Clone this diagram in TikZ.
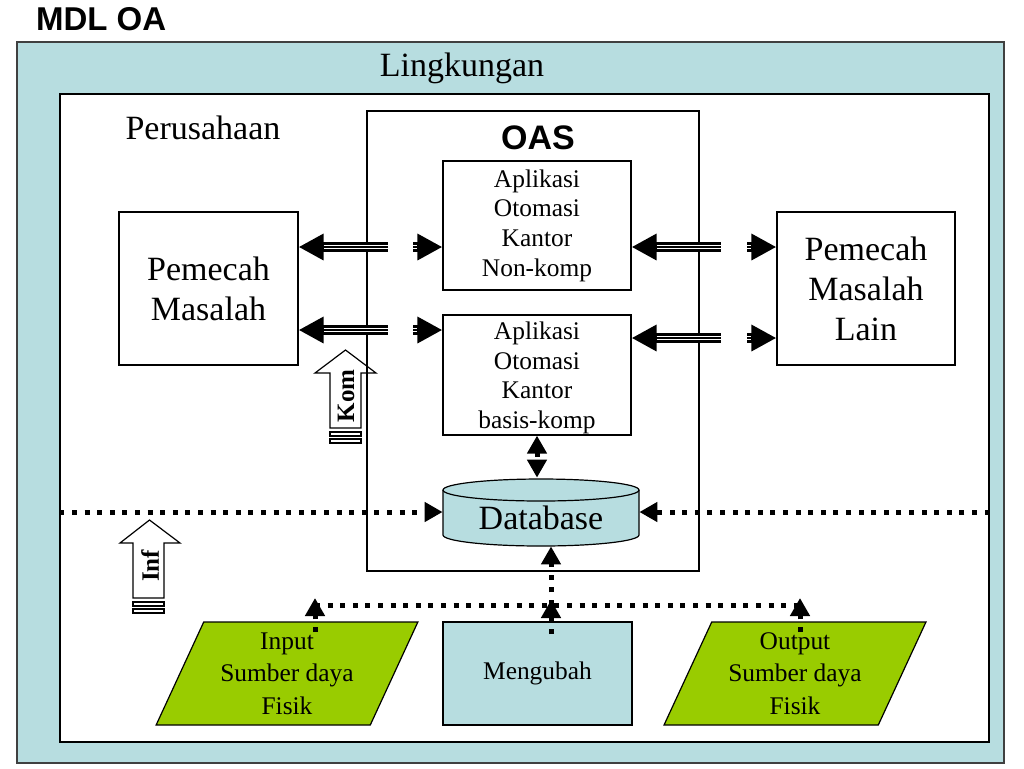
\documentclass[tikz,border=0pt]{standalone}
\usepackage{fontspec}
\setmainfont{Liberation Serif}
\newfontfamily\arialfont{Liberation Sans}
\usetikzlibrary{arrows.meta, shapes.geometric}
\definecolor{envteal}{HTML}{B7DDE0}
\definecolor{fisikgreen}{HTML}{99CC00}

\begin{document}
\begin{tikzpicture}[
    x=0.5pt, y=-0.5pt,
    box/.style={rectangle, draw, line width=0.6pt, inner sep=0pt, align=center},
    para/.style={trapezium, trapezium left angle=65, trapezium right angle=115, trapezium stretches=true, draw, line width=0.6pt, fill=fisikgreen, inner sep=0pt, align=center, minimum width=131pt, minimum height=51.5pt},
    smalltext/.style={font=\fontsize{12.7}{14.8}\selectfont},
    fisiktext/.style={font=\fontsize{12.7}{16.2}\selectfont},
    bigtext/.style={font=\fontsize{17}{20}\selectfont},
    tipL/.style={line width=4.6pt, {Triangle[length=12.5pt,width=12.5pt]}-,
        postaction={draw=white, line width=2.4pt, arrows=-, shorten <=12.5pt},
        postaction={draw=black, line width=0.9pt, arrows=-, shorten <=12.5pt}},
    tipR/.style={line width=4.6pt, -{Triangle[length=12.5pt,width=12.5pt]},
        postaction={draw=white, line width=2.4pt, arrows=-, shorten >=12.5pt},
        postaction={draw=black, line width=0.9pt, arrows=-, shorten >=12.5pt}},
    dotline/.style={line width=2.5pt, dash pattern=on 2.5pt off 3.8pt},
    dotarrow/.style={dotline, -{Triangle[length=9pt,width=9.5pt]}},
    hollow/.style={draw, line width=0.6pt}
]
\useasboundingbox (0,0) rectangle (1024,768);

\node[anchor=west, font=\arialfont\bfseries\fontsize{16.5}{20}\selectfont] (title) at (29,19) {MDL OA};

% lingkungan / perusahaan / OAS
\node[box, fill=envteal, draw=black!75, minimum width=493.5pt, minimum height=360.5pt] (env) at (510.5,402.5) {};
\node[bigtext] (envlabel) at (462,68) {Lingkungan};
\node[box, fill=white, minimum width=464.5pt, minimum height=324pt] (corp) at (524.5,418) {};
\node[bigtext] (corplabel) at (203,128) {Perusahaan};
\node[box, minimum width=166pt, minimum height=230pt] (oas) at (533,341) {};
\node[font=\arialfont\bfseries\fontsize{17}{20}\selectfont] (oaslabel) at (538,138) {OAS};

\node[box, smalltext, minimum width=94pt, minimum height=64.5pt] (app1) at (537,225.5) {Aplikasi\\Otomasi\\Kantor\\Non-komp};
\node[box, smalltext, minimum width=94pt, minimum height=60pt, text depth=-1pt] (app2) at (537,375) {Aplikasi\\Otomasi\\Kantor\\basis-komp};

\node[box, bigtext, minimum width=89.5pt, minimum height=76.5pt] (pm) at (208.5,288.5) {Pemecah\\Masalah};
\node[box, bigtext, minimum width=89pt, minimum height=76.5pt] (pml) at (866,288.5) {Pemecah\\Masalah\\Lain};

% database
\draw[fill=envteal, line width=0.6pt] (443,490) -- (443,535) arc[start angle=180, end angle=360, x radius=49pt, y radius=5.5pt] -- (639,490);
\draw[fill=envteal, line width=0.6pt] (541,490) ellipse[x radius=49pt, y radius=5.5pt];
\node[minimum width=98pt, minimum height=34pt, inner sep=0pt, label={[bigtext, yshift=-3pt]center:Database}] (db) at (541,512) {};

\node[para, fisiktext] (inp) at (287,673.5) {Input\\Sumber daya\\Fisik};
\node[box, smalltext, fill=envteal, minimum width=94.5pt, minimum height=51.5pt] (mg) at (537.5,673.5) {Mengubah};
\node[para, fisiktext] (outp) at (795,673.5) {Output\\Sumber daya\\Fisik};

% triple arrows
\coordinate (lt1) at (388,247); \coordinate (lh1) at (413,247);
\coordinate (lt2) at (388,330); \coordinate (lh2) at (413,330);
\coordinate (rt1) at (721,247); \coordinate (rh1) at (747,247);
\coordinate (rt2) at (721,338); \coordinate (rh2) at (747,338);
\draw[tipL] (pm.east |- lt1) -- (lt1);
\draw[tipR] (lh1) -- (app1.west |- lh1);
\draw[tipL] (pm.east |- lt2) -- (lt2);
\draw[tipR] (lh2) -- (app2.west |- lh2);
\draw[tipL] (app1.east |- rt1) -- (rt1);
\draw[tipR] (rh1) -- (pml.west |- rh1);
\draw[tipL] (app2.east |- rt2) -- (rt2);
\draw[tipR] (rh2) -- (pml.west |- rh2);

% dotted flows
\draw[dotarrow] (corp.west |- db.west) -- (db.west);
\draw[dotarrow] (corp.east |- db.east) -- (db.east);
\draw[dotline, {Triangle[length=9pt,width=9.5pt]}-{Triangle[length=9pt,width=9.5pt]}] (app2.south) -- (app2.south |- db.north);

\coordinate (busL) at (315,605); \coordinate (busR) at (800,605); \coordinate (busM) at (551,605);
\coordinate (inS) at (315,632); \coordinate (inT) at (315,598);
\coordinate (outS) at (800,632); \coordinate (outT) at (800,598);
\coordinate (mgS) at (551,634); \coordinate (mgT) at (551,600);
\draw[dotline] (busL) -- (busR);
\draw[dotarrow] (busM) -- (busM |- db.south);
\draw[dotarrow] (inS) -- (inT);
\draw[dotarrow] (outS) -- (outT);
\draw[dotarrow] (mgS) -- (mgT);

% striped hollow arrows
\draw[hollow] (330,428) -- (330,373) -- (315,373) -- (345.5,350) -- (376,373) -- (361,373) -- (361,428) -- cycle;
\draw[hollow] (330,432) rectangle (361,436);
\draw[hollow] (330,439) rectangle (361,443);
\node[rotate=90, font=\bfseries\fontsize{12.5}{14}\selectfont] (kom) at (346,396) {Kom};

\draw[hollow] (133,598) -- (133,543) -- (120,543) -- (149.5,520) -- (180,543) -- (164,543) -- (164,598) -- cycle;
\draw[hollow] (133,602) rectangle (164,606);
\draw[hollow] (133,609) rectangle (164,613);
\node[rotate=90, font=\bfseries\fontsize{12.5}{14}\selectfont] (inf) at (150,566) {Inf};

\end{tikzpicture}
\end{document}
